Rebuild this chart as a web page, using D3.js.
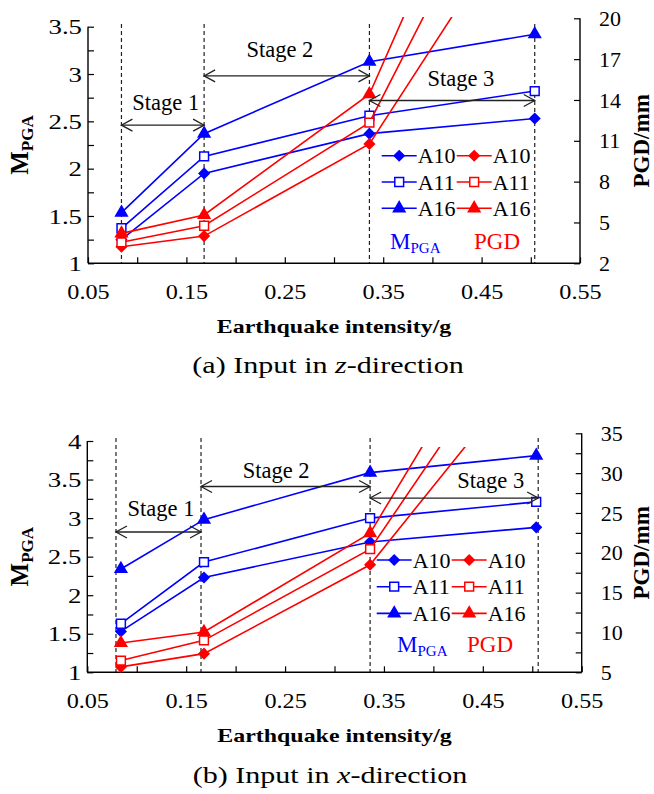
<!DOCTYPE html>
<html><head><meta charset="utf-8">
<script src="https://cdn.jsdelivr.net/npm/d3@7"></script>
<style>
body{margin:0;background:#fff}
</style>
</head><body>
<svg id="c" width="654" height="794" style="font-family:'Liberation Serif'"></svg>
<script>
// ---------- data ----------
const intensity = [0.084, 0.168, 0.336, 0.504];
const seriesNames = ["A10", "A11", "A16"];
const xTicks = [0.05, 0.10, 0.15, 0.20, 0.25, 0.30, 0.35, 0.40, 0.45, 0.50, 0.55];
const xLabels = ["0.05", "0.15", "0.25", "0.35", "0.45", "0.55"];

// (a) z-direction
const aMpgaA10 = [1.25, 1.95, 2.37, 2.53];
const aMpgaA11 = [1.37, 2.13, 2.56, 2.82];
const aMpgaA16 = [1.535, 2.37, 3.13, 3.42];
const aPgdA10 = [3.22, 4.0, 10.77, 29.5];
const aPgdA11 = [3.54, 4.76, 12.33, 36.1];
const aPgdA16 = [4.2, 5.55, 14.42, 42.0];
const aLeftTicks = [1, 1.25, 1.5, 1.75, 2, 2.25, 2.5, 2.75, 3, 3.25, 3.5];
const aLeftLabels = [1, 1.5, 2, 2.5, 3, 3.5];
const aRightTicks = [2, 5, 8, 11, 14, 17, 20];
const aStageX = [0.084, 0.168, 0.336, 0.504];

// (b) x-direction
const bMpgaA10 = [1.53, 2.23, 2.69, 2.88];
const bMpgaA11 = [1.63, 2.43, 3.0, 3.21];
const bMpgaA16 = [2.34, 2.98, 3.59, 3.81];
const bPgdA10 = [5.68, 7.34, 18.5, 44.4];
const bPgdA11 = [6.47, 9.01, 20.46, 51.1];
const bPgdA16 = [8.68, 10.06, 22.47, 57.1];
const bLeftTicks = [1, 1.25, 1.5, 1.75, 2, 2.25, 2.5, 2.75, 3, 3.25, 3.5, 3.75, 4];
const bLeftLabels = [1, 1.5, 2, 2.5, 3, 3.5, 4];
const bRightTicks = [5, 7.5, 10, 12.5, 15, 17.5, 20, 22.5, 25, 27.5, 30, 32.5, 35];
const bRightLabels = [5, 10, 15, 20, 25, 30, 35];
const bStageX = [0.079, 0.165, 0.336, 0.506];

const stageNames = ["Stage 1", "Stage 2", "Stage 3"];
const captions = ["(a) Input in ", "(b) Input in "];
const captionVar = ["z", "x"];

// ---------- drawing ----------
const FONT = "'Liberation Serif', 'Times New Roman', serif";
const svg = d3.select("#c");
const BLUE = "#0000ff", RED = "#ff0000";

function markerPath(name) {
  if (name === "A10") return d3.symbol().type(d3.symbolSquare).size(50)();
  if (name === "A11") return d3.symbol().type(d3.symbolSquare).size(78)();
  return d3.symbol().type(d3.symbolTriangle).size(58)();
}
function marker(sel, name, color, tx, ty) {
  sel.attr("d", markerPath(name))
    .attr("transform", d => {
      const t = `translate(${tx(d)},${ty(d)})`;
      return name === "A10" ? t + " rotate(45)" : t;
    })
    .attr("fill", name === "A11" ? "#fff" : color)
    .attr("stroke", color).attr("stroke-width", 1.5);
}
function txt(sel, size, weight) {
  return sel.style("font-family", FONT).style("font-size", size + "px")
    .style("font-weight", weight || "normal");
}

function panel(cfg) {
  const g = svg.append("g");
  const x = d3.scaleLinear().domain([0.05, 0.55]).range([cfg.x0, cfg.x1]);
  const yL = d3.scaleLinear().domain(cfg.lDom).range([cfg.yBot, cfg.lTop]);
  const yR = d3.scaleLinear().domain(cfg.rDom).range([cfg.yBot, cfg.rTop]);

  const clipId = "clip" + cfg.id;
  svg.append("clipPath").attr("id", clipId).append("rect")
    .attr("x", cfg.x0).attr("y", cfg.clipTop)
    .attr("width", cfg.x1 - cfg.x0 + 8).attr("height", cfg.yBot - cfg.clipTop + 8);

  // dashed stage lines
  g.selectAll("line.stage").data(cfg.stageX).enter().append("line")
    .attr("x1", d => x(d)).attr("x2", d => x(d))
    .attr("y1", cfg.dashTop).attr("y2", cfg.yBot)
    .attr("stroke", "#222").attr("stroke-width", 1.2).attr("stroke-dasharray", "4,3");

  // axes
  const fmtX = d => xLabels.includes(d3.format(".2f")(d)) ? d3.format(".2f")(d) : "";
  const ax = g.append("g").attr("transform", `translate(0,${cfg.yBot})`)
    .call(d3.axisBottom(x).tickValues(xTicks).tickSizeInner(-6).tickSizeOuter(0).tickPadding(cfg.xPad).tickFormat(fmtX));
  const al = g.append("g").attr("transform", `translate(${cfg.x0},0)`)
    .call(d3.axisLeft(yL).tickValues(cfg.lTicks).tickSizeInner(-6).tickSizeOuter(0).tickPadding(6)
      .tickFormat(d => cfg.lLabels.includes(d) ? String(d) : ""));
  const ar = g.append("g").attr("transform", `translate(${cfg.x1},0)`)
    .call(d3.axisRight(yR).tickValues(cfg.rTicks).tickSizeInner(-6).tickSizeOuter(0).tickPadding(19)
      .tickFormat(d => cfg.rLabels.includes(d) ? String(d) : ""));
  [ax, al, ar].forEach(a => {
    a.attr("font-family", null).attr("font-size", null);
    a.selectAll("path.domain").attr("stroke", "#000").attr("stroke-width", 1.4);
    a.selectAll(".tick line").attr("stroke", "#000").attr("stroke-width", 1.2);
    txt(a.selectAll("text"), 22).attr("fill", "#000");
  });
  const sxX = 1.1, sxL = 1.22;
  ax.selectAll("text").attr("transform", `scale(${sxX},1)`);
  al.selectAll("text").attr("transform", `scale(${sxL},1)`).attr("x", -6 / sxL);
  ar.select("path.domain").attr("d", `M0,${cfg.rTop}V${cfg.yBot}`);
  al.select("path.domain").attr("d", `M0,${cfg.lTop}V${cfg.yBot}`);
  ax.select("path.domain").attr("d", `M${cfg.x0},0H${cfg.x1}`);

  // series
  const plot = g.append("g").attr("clip-path", `url(#${clipId})`);
  const groups = [
    {vals: cfg.mpga, y: yL, color: BLUE},
    {vals: cfg.pgd, y: yR, color: RED}
  ];
  groups.forEach(grp => {
    seriesNames.forEach((name, k) => {
      const vals = grp.vals[k].map((v, i) => ({x: intensity[i], v}));
      plot.append("path").datum(vals)
        .attr("d", d3.line().x(d => x(d.x)).y(d => grp.y(d.v)))
        .attr("fill", "none").attr("stroke", grp.color).attr("stroke-width", 1.6);
      plot.selectAll(null).data(vals).enter().append("path")
        .call(s => marker(s, name, grp.color, d => x(d.x), d => grp.y(d.v)));
    });
  });

  // stage arrows
  const arrowG = g.append("g");
  cfg.stages.forEach((st, i) => {
    const xa = x(cfg.stageX[i]), xb = x(cfg.stageX[i + 1]), yy = yL(st.arrowY);
    arrowG.append("line").attr("x1", xa).attr("x2", xb).attr("y1", yy).attr("y2", yy)
      .attr("stroke", "#222").attr("stroke-width", 1.3);
    arrowG.append("path").attr("d", `M${xa + 11},${yy - 6}L${xa},${yy}L${xa + 11},${yy + 6}`)
      .attr("fill", "none").attr("stroke", "#222").attr("stroke-width", 1.3);
    arrowG.append("path").attr("d", `M${xb - 11},${yy - 6}L${xb},${yy}L${xb - 11},${yy + 6}`)
      .attr("fill", "none").attr("stroke", "#222").attr("stroke-width", 1.3);
    txt(arrowG.append("text"), 22.5).attr("x", x(st.textX)).attr("y", yL(st.textY))
      .attr("text-anchor", "middle").text(stageNames[i]);
  });

  // legend
  const lg = g.append("g");
  seriesNames.forEach((name, k) => {
    const yy = cfg.leg.y0 + k * cfg.leg.dy;
    [[BLUE, cfg.leg.bx], [RED, cfg.leg.rx]].forEach(([col, lx]) => {
      lg.append("line").attr("x1", lx).attr("x2", lx + 35).attr("y1", yy).attr("y2", yy)
        .attr("stroke", col).attr("stroke-width", 1.6);
      lg.append("path").datum(0).call(s => marker(s, name, col, () => lx + 17.5, () => yy));
      txt(lg.append("text"), 22).attr("x", lx + 36).attr("y", yy + 7.5).text(name);
    });
  });
  const mt = txt(lg.append("text"), 23).attr("x", cfg.leg.mx).attr("y", cfg.leg.my).attr("fill", BLUE);
  mt.append("tspan").text("M");
  mt.append("tspan").style("font-size", "15px").attr("dy", 4).text("PGA");
  txt(lg.append("text"), 23).attr("x", cfg.leg.px).attr("y", cfg.leg.my).attr("fill", RED).text("PGD");

  // axis titles
  txt(g.append("text"), 18, "bold")
    .attr("transform", `translate(${(cfg.x0 + cfg.x1) / 2},${cfg.xTitleY}) scale(1.33,1)`)
    .attr("text-anchor", "middle").text("Earthquake intensity/g");
  const yt = txt(g.append("text"), 25, "bold")
    .attr("transform", `translate(${cfg.lTitleX},${(cfg.lTop + cfg.yBot) / 2}) rotate(-90)`)
    .attr("text-anchor", "middle");
  yt.append("tspan").text("M");
  yt.append("tspan").style("font-size", "17px").attr("dy", 5).text("PGA");
  txt(g.append("text"), 23, "bold")
    .attr("transform", `translate(${cfg.rTitleX},${(cfg.rTop + cfg.yBot) / 2}) rotate(-90)`)
    .attr("text-anchor", "middle").text("PGD/mm");

  // caption
  const cap = txt(g.append("text"), 23.5)
    .attr("transform", `translate(${cfg.capX},${cfg.capY}) scale(1.28,1)`)
    .attr("text-anchor", "middle");
  cap.append("tspan").text(captions[cfg.id]);
  cap.append("tspan").style("font-style", "italic").text(captionVar[cfg.id]);
  cap.append("tspan").text("-direction");
}

panel({
  id: 0, x0: 88, x1: 580, yBot: 263.3, lTop: 26.7, rTop: 18.3, clipTop: 17, dashTop: 24,
  lDom: [1, 3.5], rDom: [2, 20], lTicks: aLeftTicks, lLabels: aLeftLabels,
  rTicks: aRightTicks, rLabels: aRightTicks, stageX: aStageX, xPad: 20,
  mpga: [aMpgaA10, aMpgaA11, aMpgaA16], pgd: [aPgdA10, aPgdA11, aPgdA16],
  stages: [
    {arrowY: 2.46, textX: 0.129, textY: 2.62},
    {arrowY: 2.98, textX: 0.245, textY: 3.18},
    {arrowY: 2.72, textX: 0.429, textY: 2.87}
  ],
  leg: {y0: 155.7, dy: 26.3, bx: 381.7, rx: 456.7, mx: 390, px: 474, my: 249},
  xTitleY: 333, lTitleX: 28, rTitleX: 649, capX: 328, capY: 373
});

panel({
  id: 1, x0: 87.3, x1: 581.7, yBot: 672.3, lTop: 441, rTop: 433.3, clipTop: 447, dashTop: 438,
  lDom: [1, 4], rDom: [5, 35], lTicks: bLeftTicks, lLabels: bLeftLabels,
  rTicks: bRightTicks, rLabels: bRightLabels, stageX: bStageX, xPad: 20,
  mpga: [bMpgaA10, bMpgaA11, bMpgaA16], pgd: [bPgdA10, bPgdA11, bPgdA16],
  stages: [
    {arrowY: 2.82, textX: 0.1245, textY: 3.03},
    {arrowY: 3.41, textX: 0.241, textY: 3.52},
    {arrowY: 3.26, textX: 0.458, textY: 3.39}
  ],
  leg: {y0: 560, dy: 26.7, bx: 376.7, rx: 451.7, mx: 397, px: 467, my: 652},
  xTitleY: 742, lTitleX: 28, rTitleX: 649, capX: 330, capY: 783
});
</script>
</body></html>
